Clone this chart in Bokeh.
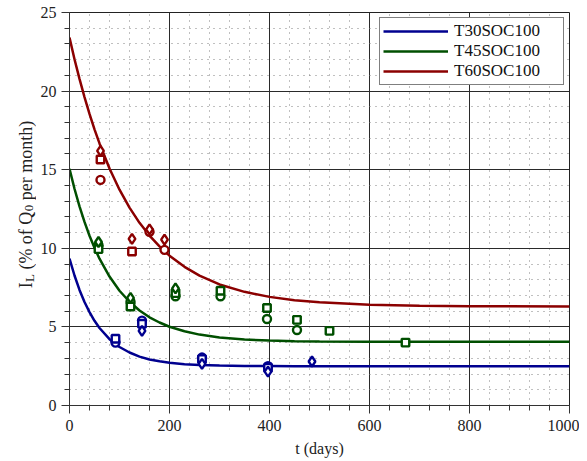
import math
from bokeh.plotting import figure
from bokeh.layouts import row
from bokeh.models import Range1d, SingleIntervalTicker
from bokeh.core.properties import value
from bokeh.embed import file_html
from bokeh.resources import INLINE

FONT = "Liberation Serif"

# fitted curves (t in days, I_L in % of Q0 per month)
curve_t = [0, 10, 20, 30, 40, 50, 60, 80, 100, 120, 140, 160, 180, 200, 230, 260,
           300, 350, 400, 450, 500, 600, 700, 800, 1000]
blue_curve = [9.35, 8.27, 7.35, 6.58, 5.94, 5.39, 4.93, 4.22, 3.72, 3.37, 3.11, 2.93,
              2.81, 2.72, 2.63, 2.58, 2.54, 2.52, 2.51, 2.50, 2.50, 2.50, 2.50, 2.50, 2.50]
green_curve = [15.05, 13.79, 12.67, 11.68, 10.80, 10.03, 9.34, 8.20, 7.30, 6.60, 6.04, 5.61,
               5.28, 5.01, 4.72, 4.51, 4.33, 4.20, 4.13, 4.09, 4.07, 4.06, 4.05, 4.05, 4.05]
red_curve = [23.4, 22.03, 20.78, 19.62, 18.55, 17.57, 16.67, 15.08, 13.73, 12.59, 11.62, 10.81,
             10.12, 9.53, 8.82, 8.26, 7.70, 7.23, 6.91, 6.70, 6.57, 6.41, 6.35, 6.32, 6.30]

# measured points
blue_circ_t = [92, 145, 265, 397]
blue_circ_v = [4.0, 5.4, 3.05, 2.5]
blue_sq_t = [92, 145, 265, 397]
blue_sq_v = [4.25, 5.2, 2.95, 2.4]
blue_dia_t = [145, 265, 397, 485]
blue_dia_v = [4.75, 2.65, 2.15, 2.8]

green_circ_t = [58, 122, 212, 302, 395, 455]
green_circ_v = [10.2, 6.6, 6.95, 6.95, 5.5, 4.8]
green_sq_t = [58, 122, 212, 302, 395, 455, 520, 672]
green_sq_v = [9.95, 6.3, 7.15, 7.3, 6.2, 5.45, 4.75, 4.0]
green_dia_t = [58, 122, 212]
green_dia_v = [10.4, 6.85, 7.45]

red_circ_t = [62, 160, 190]
red_circ_v = [14.35, 11.05, 9.9]
red_sq_t = [62, 125]
red_sq_v = [15.65, 9.8]
red_dia_t = [62, 125, 160, 190]
red_dia_v = [16.2, 10.6, 11.2, 10.55]

series_names = ["T30SOC100", "T45SOC100", "T60SOC100"]
colors = ["#00008f", "#004f00", "#8b0000"]

x_ticks_interval = 200
y_ticks_interval = 5

FW, FH = 500, 393
TOP, BOTTOM = 12, 56
LABW = 36

p = figure(frame_width=FW, frame_height=FH, x_range=Range1d(0, 1000), y_range=Range1d(0, 25),
           output_backend="svg", toolbar_location=None,
           min_border_left=69 - LABW, min_border_right=10, min_border_top=TOP, min_border_bottom=BOTTOM,
           background_fill_color="white", border_fill_color="white")

p.xaxis.ticker = SingleIntervalTicker(interval=x_ticks_interval, num_minor_ticks=5)
p.yaxis.ticker = SingleIntervalTicker(interval=y_ticks_interval, num_minor_ticks=5)

for ax in (p.xaxis[0], p.yaxis[0]):
    ax.major_label_text_font = FONT
    ax.major_label_text_font_size = "16px"
    ax.major_label_text_color = "#222222"
    ax.axis_label_text_font = FONT
    ax.axis_label_text_font_size = "16px"
    ax.axis_label_text_font_style = "normal"
    ax.axis_label_text_color = "#222222"
    ax.major_tick_out = 8
    ax.major_tick_in = 0
    ax.minor_tick_out = 5
    ax.minor_tick_in = 0
    ax.axis_line_color = "#333333"
    ax.major_tick_line_color = "#333333"
    ax.minor_tick_line_color = "#333333"

p.xaxis[0].major_label_standoff = 6
p.yaxis[0].major_label_standoff = 5
p.xaxis.axis_label = "t (days)"
p.xaxis.axis_label_standoff = 6

for g in (p.xgrid, p.ygrid):
    g.grid_line_color = "#2a2a2a"
    g.grid_line_width = 1
    g.minor_grid_line_color = "#808080"
    g.minor_grid_line_dash = "1 5"
    g.minor_grid_line_width = 1

p.outline_line_color = "#222222"
p.outline_line_width = 1

curves = [blue_curve, green_curve, red_curve]
for name, col, cv in zip(series_names, colors, curves):
    p.line(curve_t, cv, line_color=col, line_width=2.5, legend_label=name)

pts = [
    (blue_circ_t, blue_circ_v, blue_sq_t, blue_sq_v, blue_dia_t, blue_dia_v),
    (green_circ_t, green_circ_v, green_sq_t, green_sq_v, green_dia_t, green_dia_v),
    (red_circ_t, red_circ_v, red_sq_t, red_sq_v, red_dia_t, red_dia_v),
]
for col, (ct, cv, st, sv, dt, dv) in zip(colors, pts):
    p.scatter(ct, cv, marker="circle", size=8, line_color=col, line_width=2.4, fill_color="white")
    p.scatter(st, sv, marker="square", size=7.5, line_color=col, line_width=2.4, fill_color="white")
    p.scatter(dt, dv, marker="diamond", size=10, line_color=col, line_width=2.4, fill_color="white")

lg = p.legend[0]
lg.location = "top_right"
lg.margin = 5
lg.padding = 3
lg.spacing = 0
lg.label_height = 18
lg.glyph_height = 18
lg.glyph_width = 65
lg.label_standoff = 6
lg.label_width = 106
lg.label_text_font = FONT
lg.label_text_font_size = "17px"
lg.label_text_color = "#111111"
lg.border_line_color = "black"
lg.border_line_width = 1.3
lg.background_fill_color = "white"
lg.background_fill_alpha = 1.0

# narrow figure on the left carrying the y-axis label with subscripts;
# its frame is aligned with the main frame, 1 unit = 1 px
q = figure(frame_width=LABW, frame_height=FH, x_range=Range1d(-LABW, 0), y_range=Range1d(0, FH),
           output_backend="svg", toolbar_location=None, x_axis_type=None, y_axis_type=None,
           title=None, min_border_left=0, min_border_right=0,
           min_border_top=TOP, min_border_bottom=BOTTOM,
           outline_line_color=None, background_fill_color="white", border_fill_color="white")
q.grid.visible = False

S, s = 18, 13
base_x, sub_x = -11.0, -7.5
W = {"I": .333, "L": .611, " ": .25, "(": .333, "%": .833, "o": .5, "f": .333, "Q": .722,
     "0": .5, "p": .5, "e": .444, "r": .333, "m": .778, "n": .5, "t": .278, "h": .5, ")": .333}
# (text, size, x, gap before in px)
pieces = [("I", S, base_x, 0.0), ("L", s, sub_x, 0.3), ("(% of Q", S, base_x, 0.25 * S),
          ("0", s, sub_x, 0.5), ("per month)", S, base_x, 0.25 * S)]
widths = [sum(W[c] for c in txt) * size + gap for txt, size, _, gap in pieces]
total = sum(widths)
pos = (405 - 204) - total / 2.0
for (txt, size, x, gap), w in zip(pieces, widths):
    q.text(x=[x], y=[pos + gap], text=[txt], angle=math.pi / 2, text_align="left",
           text_baseline="alphabetic", text_font=value(FONT),
           text_font_size=value(f"{size}px"), text_color="#222222")
    pos += w

layout = row(q, p)
open("out.html", "w").write(file_html(layout, INLINE))
